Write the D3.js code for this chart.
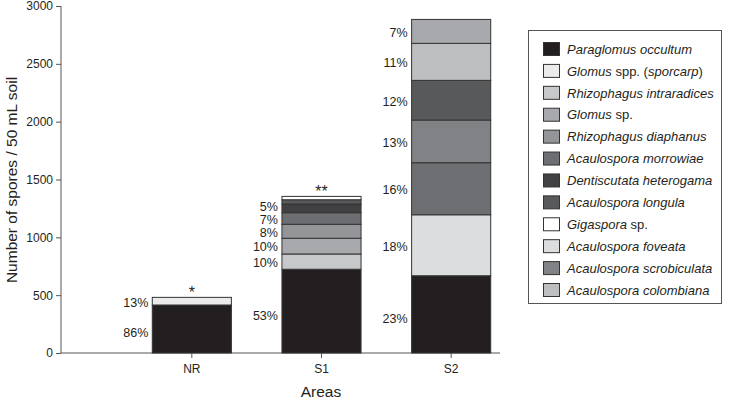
<!DOCTYPE html>
<html>
<head>
<meta charset="utf-8">
<script src="https://cdn.jsdelivr.net/npm/d3@7"></script>
<style>
body { margin: 0; background: #fff; }
text { font-family: "Liberation Sans", Arial, sans-serif; fill: #231f20; }
</style>
</head>
<body>
<svg id="myChart" width="732" height="402"></svg>
<script>
// Categories on the x axis
const areas = ['NR', 'S1', 'S2'];

// Legend order
const species = [
	'Paraglomus occultum',
	'Glomus spp. (sporcarp)',
	'Rhizophagus intraradices',
	'Glomus sp.',
	'Rhizophagus diaphanus',
	'Acaulospora morrowiae',
	'Dentiscutata heterogama',
	'Acaulospora longula',
	'Gigaspora sp.',
	'Acaulospora foveata',
	'Acaulospora scrobiculata',
	'Acaulospora colombiana'
];

// Stacks from bottom to top, per area
const nrSpecies = ['Paraglomus occultum', 'Glomus spp. (sporcarp)'];
const nrCounts = [415, 66];
const nrLabels = ['86%', '13%'];

const s1Species = ['Paraglomus occultum', 'Rhizophagus intraradices', 'Glomus sp.', 'Rhizophagus diaphanus',
	'Acaulospora morrowiae', 'Dentiscutata heterogama', 'Acaulospora longula', 'Gigaspora sp.'];
const s1Counts = [724, 132, 136, 121, 100, 75, 37, 29];
const s1Labels = ['53%', '10%', '10%', '8%', '7%', '5%', '', ''];

const s2Species = ['Paraglomus occultum', 'Acaulospora foveata', 'Acaulospora morrowiae', 'Acaulospora scrobiculata',
	'Acaulospora longula', 'Acaulospora colombiana', 'Glomus sp.'];
const s2Counts = [668, 527, 450, 369, 343, 320, 207];
const s2Labels = ['23%', '18%', '16%', '13%', '12%', '11%', '7%'];

// Significance marks above the bars
const marks = ['*', '**', ''];

const yTicks = [0, 500, 1000, 1500, 2000, 2500, 3000];

// Grey fill for each species (legend order)
const greys = ['#231f20', '#ebebec', '#c7c8ca', '#a7a9ac', '#939598', '#6d6e71',
	'#414042', '#58595b', '#ffffff', '#dcddde', '#808285', '#bcbec0'];

const svg = d3.select('#myChart');

const colorScale = d3.scaleOrdinal()
	.domain(species)
	.range(greys);

// Band scale so that the bars sit centred on the ticks
const xScale = d3.scaleBand()
	.domain(areas)
	.range([127, 516])
	.paddingInner(0.39)
	.paddingOuter(0.195);

const yScale = d3.scaleLinear()
	.domain([0, 3000])
	.range([353, 6]);

// Build the segments for every area with a cumulative sum
const stacks = [
	{ area: 'NR', names: nrSpecies, counts: nrCounts, labels: nrLabels },
	{ area: 'S1', names: s1Species, counts: s1Counts, labels: s1Labels },
	{ area: 'S2', names: s2Species, counts: s2Counts, labels: s2Labels }
];

const segments = [];
stacks.forEach((s, si) => {
	const tops = Array.from(d3.cumsum(s.counts));
	s.names.forEach((name, i) => {
		segments.push({
			area: s.area,
			name: name,
			y0: i === 0 ? 0 : tops[i - 1],
			y1: tops[i],
			label: s.labels[i],
			bottom: i === 0
		});
	});
	s.total = tops[tops.length - 1];
	s.mark = marks[si];
});

// Axes
const axisColor = '#555';

const yAxis = svg.append('g')
	.attr('transform', 'translate(61,0)')
	.call(d3.axisLeft(yScale).tickValues(yTicks).tickSize(5).tickPadding(3).tickFormat(d3.format('d')));
yAxis.select('.domain').attr('stroke', axisColor).attr('d', 'M0,6V353');
yAxis.selectAll('.tick line').attr('stroke', axisColor);
yAxis.selectAll('.tick text').attr('font-size', 12).attr('fill', '#231f20');

const xAxis = svg.append('g')
	.attr('transform', 'translate(0,353)')
	.call(d3.axisBottom(xScale).tickSize(5).tickPadding(6));
xAxis.select('.domain').attr('stroke', axisColor).attr('d', 'M61,0H500');
xAxis.selectAll('.tick line').attr('stroke', axisColor);
xAxis.selectAll('.tick text').attr('font-size', 12).attr('fill', '#231f20');

// Bars
svg.append('g')
	.selectAll('rect')
	.data(segments)
	.enter()
	.append('rect')
		.attr('x', d => xScale(d.area))
		.attr('y', d => yScale(d.y1))
		.attr('width', xScale.bandwidth())
		.attr('height', d => yScale(d.y0) - yScale(d.y1))
		.attr('fill', d => colorScale(d.name))
		.attr('stroke', '#333')
		.attr('stroke-width', 1);

// Percent labels - keep them from running into each other
const labelGroup = svg.append('g');
areas.forEach(area => {
	let prev = Infinity;
	segments.filter(d => d.area === area && d.label).forEach(d => {
		// bottom labels sit a little below the middle of the segment
		const mid = (yScale(d.y0) + yScale(d.y1)) / 2 + (d.bottom ? 4 : 1);
		const y = Math.min(mid, prev - 12.5);
		prev = y;
		labelGroup.append('text')
			.attr('x', xScale(area) - 4)
			.attr('y', y)
			.attr('dy', '0.35em')
			.attr('text-anchor', 'end')
			.attr('font-size', 12.5)
			.text(d.label);
	});
});

// Asterisks
svg.append('g')
	.selectAll('text')
	.data(stacks.filter(s => s.mark))
	.enter()
	.append('text')
		.attr('x', d => xScale(d.area) + xScale.bandwidth() / 2)
		.attr('y', d => yScale(d.total) + 1)
		.attr('text-anchor', 'middle')
		.attr('font-size', 16)
		.text(d => d.mark);

// Axis titles
svg.append('text')
	.attr('transform', 'translate(17,180) rotate(-90)')
	.attr('text-anchor', 'middle')
	.attr('font-size', 15.5)
	.text('Number of spores / 50 mL soil');

svg.append('text')
	.attr('x', 321)
	.attr('y', 397)
	.attr('text-anchor', 'middle')
	.attr('font-size', 15.5)
	.text('Areas');

// Legend
const legend = svg.append('g');
legend.append('rect')
	.attr('x', 528.5)
	.attr('y', 30.5)
	.attr('width', 193)
	.attr('height', 273)
	.attr('fill', 'none')
	.attr('stroke', '#555');

const rowY = d3.scalePoint().domain(species).range([49, 290]);

const entries = legend.selectAll('.entry')
	.data(species)
	.enter()
	.append('g')
		.attr('class', 'entry')
		.attr('transform', d => `translate(0,${rowY(d)})`);

entries.append('rect')
	.attr('x', 543.5)
	.attr('y', -6.5)
	.attr('width', 16)
	.attr('height', 13)
	.attr('fill', d => colorScale(d))
	.attr('stroke', '#333');

// Genus names in italics, "sp." / "spp." and brackets upright
entries.append('text')
	.attr('x', 567)
	.attr('dy', '0.36em')
	.attr('font-size', 13)
	.each(function(d) {
		const parts = d.split(/(spp?\.|[()])/).filter(p => p !== '');
		const t = d3.select(this);
		parts.forEach(p => {
			const upright = /^(spp?\.|[()])$/.test(p);
			t.append('tspan')
				.attr('font-style', upright ? 'normal' : 'italic')
				.text(p);
		});
	});
</script>
</body>
</html>
